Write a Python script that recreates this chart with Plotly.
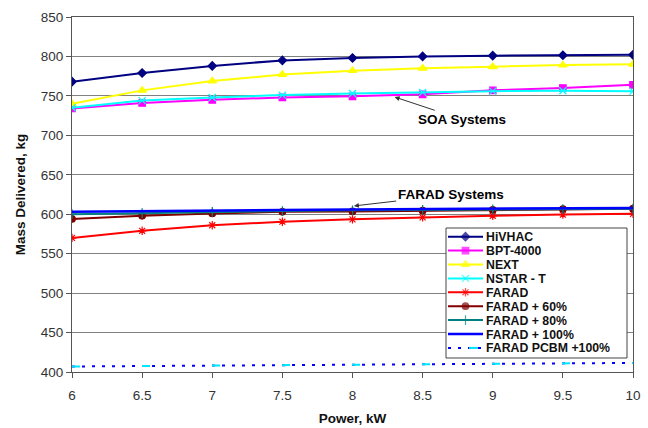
import plotly.graph_objects as go

power = [6, 6.5, 7, 7.5, 8, 8.5, 9, 9.5, 10]

hivhac = [768, 779, 788, 795, 798, 800, 801, 801.5, 802]
bpt4000 = [734, 741, 745, 748, 749.5, 752, 757, 760, 764]
next_ = [740, 757, 769, 777, 782, 785, 787, 789, 790]
nstar_t = [735, 744, 748, 751, 753, 754.5, 756, 756.5, 756]
farad = [570, 579, 586, 590.5, 593.5, 596, 598, 599.5, 600.5]
farad60 = [594, 598, 601, 603, 603.5, 604.5, 605.5, 606.5, 607]
farad80 = [600, 601.5, 603, 604, 605, 605.5, 606, 606.5, 607]
farad100 = [603, 604, 605, 605.5, 606, 606.5, 607, 607.5, 608]
pcbm100 = [407, 407.5, 408, 408.5, 409, 409.5, 410.5, 411, 411.5]

series_names = ["HiVHAC", "BPT-4000", "NEXT", "NSTAR - T", "FARAD", "FARAD + 60%",
                "FARAD + 80%", "FARAD + 100%", "FARAD PCBM +100%"]
series_values = [hivhac, bpt4000, next_, nstar_t, farad, farad60, farad80, farad100, pcbm100]

styles = [
    dict(color="#000080", symbol="diamond", size=6.5, width=2, dash="solid"),
    dict(color="#FF00FF", symbol="square", size=6.5, width=2, dash="solid"),
    dict(color="#FFFF00", symbol="triangle-up", size=7.5, width=2, dash="solid"),
    dict(color="#00FFFF", symbol="x-thin-open", size=7, width=2, dash="solid"),
    dict(color="#FF0000", symbol="asterisk-open", size=7, width=2, dash="solid"),
    dict(color="#800000", symbol="circle", size=6.5, width=2, dash="solid"),
    dict(color="#008080", symbol="cross-thin-open", size=7, width=2, dash="solid"),
    dict(color="#0000FF", symbol=None, size=0, width=2.5, dash="solid"),
    dict(color="#0000FF", symbol=None, size=0, width=2, dash="3px,7px"),
]

fig = go.Figure()

for name, vals, st in zip(series_names, series_values, styles):
    mode = "lines+markers" if st["symbol"] else "lines"
    fig.add_trace(go.Scatter(
        x=power, y=vals, name=name, mode=mode, showlegend=False,
        line=dict(color=st["color"], width=st["width"], dash=st["dash"]),
        marker=dict(symbol=st["symbol"] or "circle", size=st["size"], color=st["color"],
                    line=dict(color=st["color"], width=1.2)),
    ))
# cyan dash accents on the PCBM line
fig.add_trace(go.Scatter(x=power, y=pcbm100, mode="lines", showlegend=False,
                         line=dict(color="#00E5FF", width=2, dash="8px,62px")))

# ---- custom legend drawn in pixel space on an overlay axis pair ----
LX0, LX1, LY0, LY1 = 446, 627, 228, 358
row0, rowstep = 236.7, 13.9
fig.add_trace(go.Scatter(
    x=[LX0, LX1, LX1, LX0, LX0], y=[LY0, LY0, LY1, LY1, LY0], xaxis="x2", yaxis="y2",
    mode="lines", fill="toself", fillcolor="white", showlegend=False, hoverinfo="skip",
    line=dict(color="#444", width=1)))
for i, (name, st) in enumerate(zip(series_names, styles)):
    cy = row0 + rowstep * i
    fig.add_trace(go.Scatter(
        x=[448, 465.5, 483], y=[cy, cy, cy], xaxis="x2", yaxis="y2",
        mode="lines+markers" if st["symbol"] else "lines", showlegend=False, hoverinfo="skip",
        line=dict(color=st["color"], width=st["width"], dash=st["dash"]),
        marker=dict(symbol=st["symbol"] or "circle", size=[0, st["size"], 0], color=st["color"],
                    line=dict(color=st["color"], width=1.2)),
    ))
    if i == len(series_names) - 1:
        fig.add_trace(go.Scatter(x=[469, 478], y=[cy, cy], xaxis="x2", yaxis="y2", mode="lines",
                                 showlegend=False, hoverinfo="skip",
                                 line=dict(color="#00E5FF", width=2)))
    fig.add_annotation(x=485, y=cy, xref="x2", yref="y2", text="<b>" + name + "</b>",
                       showarrow=False, xanchor="left", yanchor="middle",
                       height=13, valign="middle", borderpad=0,
                       font=dict(size=12.3, color="#111", family="Arial"))

fig.add_annotation(x=8.30, y=748.6, ax=8.78, ay=720.3, axref="x", ayref="y",
                   xref="x", yref="y", text="<b>SOA Systems</b>", showarrow=True,
                   arrowhead=2, arrowsize=1, arrowwidth=1, arrowcolor="#333",
                   font=dict(size=13.5, color="black", family="Arial"))
fig.add_annotation(x=8.01, y=610.5, ax=8.70, ay=624.7, axref="x", ayref="y",
                   xref="x", yref="y", text="<b>FARAD Systems</b>", showarrow=True,
                   arrowhead=2, arrowsize=1, arrowwidth=1, arrowcolor="#333",
                   font=dict(size=13.5, color="black", family="Arial"))

fig.update_layout(
    width=648, height=428,
    margin=dict(l=72, r=15, t=17, b=56, autoexpand=False),
    paper_bgcolor="white", plot_bgcolor="white",
    showlegend=False,
    font=dict(family="Arial", size=13.5, color="#333"),
    xaxis=dict(range=[6, 10], tickvals=power, ticktext=["6", "6.5", "7", "7.5", "8", "8.5", "9", "9.5", "10"],
               ticks="outside", ticklen=5, tickcolor="#555", showgrid=False, ticklabelstandoff=6,
               showline=True, linecolor="#555", mirror=True, zeroline=False, automargin=False,
               title=dict(text="<b>Power, kW</b>", font=dict(size=13.5, color="#111"), standoff=11)),
    yaxis=dict(range=[400, 850], dtick=50, ticks="outside", ticklen=5, tickcolor="#555",
               showgrid=True, gridcolor="#808080", gridwidth=1, automargin=False,
               showline=True, linecolor="#555", mirror=True, zeroline=False,
               title=dict(text="<b>Mass Delivered, kg</b>", font=dict(size=13.5, color="#111"), standoff=12)),
    xaxis2=dict(range=[72, 633], overlaying="x", visible=False, fixedrange=True),
    yaxis2=dict(range=[372, 17], overlaying="y", visible=False, fixedrange=True),
)

fig.write_html("out.html")
